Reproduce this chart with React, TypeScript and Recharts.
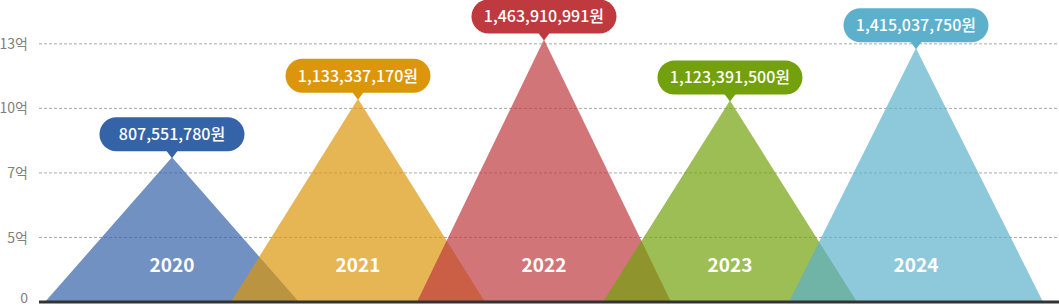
import React from "react";
import { ComposedChart, Area, XAxis, YAxis, CartesianGrid, ReferenceLine, ReferenceDot } from "recharts";

const YEARS = ["2020", "2021", "2022", "2023", "2024"];
const VALUES = [807551780, 1133337170, 1463910991, 1123391500, 1415037750];
const COLORS = ["#3463a8", "#dc960c", "#bf3a3f", "#73a10d", "#5db0cc"];
const Y_TICKS = [0, 3.6e8, 7.2e8, 10.8e8, 14.4e8];
const Y_TICK_LABELS = ["0", "5억", "7억", "10억", "13억"];

const HALF = 0.683; // half base width of each mountain, in category units
const FONT = '"Noto Sans CJK KR", "Noto Sans", sans-serif';

// each year becomes a triangle: base-left, peak, base-right
const rows = YEARS.flatMap((y, i) => [
  { x: i - HALF, [`y${y}`]: 0 },
  { x: i, [`y${y}`]: VALUES[i] },
  { x: i + HALF, [`y${y}`]: 0 },
]).sort((a, b) => a.x - b.x);

const won = (v: number) => v.toLocaleString("en-US") + "원";

function YTick({ x, y, payload }: any) {
  const v = payload.value;
  // bottom label sits a little above the thick base line, as in the original
  const shift = v === 0 ? -4 : 0;
  return (
    <text x={x} y={y + shift} dy="0.36em" textAnchor="end" fill="#808080" fontSize={14} fontFamily={FONT}>
      {Y_TICK_LABELS[Y_TICKS.indexOf(v)]}
    </text>
  );
}

function Pill({ cx, cy, color, text }: any) {
  const w = 145, h = 34;
  const top = cy - 6 - h;
  return (
    <g>
      <rect x={cx - w / 2} y={top} width={w} height={h} rx={17} fill={color} />
      <path d={`M${cx - 6},${top + h - 1} L${cx + 6},${top + h - 1} L${cx},${cy + 1} Z`} fill={color} />
      <text x={cx} y={top + h / 2} dy="0.36em" textAnchor="middle" fill="#fff" fontSize={16} fontWeight={500} fontFamily={FONT}>
        {text}
      </text>
    </g>
  );
}

function YearLabel({ cx, cy, text }: any) {
  return (
    <text x={cx} y={cy - 37} dy="0.36em" textAnchor="middle" fill="#fff" fontSize={19} fontWeight={600} fontFamily={FONT}>
      {text}
    </text>
  );
}

export default function App() {
  return (
    <div style={{ position: "absolute", left: 0, top: 0 }}>
      <ComposedChart width={1059} height={307} data={rows} margin={{ top: 8, right: 0, bottom: 5, left: 0 }}>
        <CartesianGrid vertical={false} horizontalValues={Y_TICKS} stroke="#aaa" strokeDasharray="3 2" />
        <XAxis type="number" dataKey="x" domain={[-0.715, 4.769]} allowDataOverflow hide />
        <YAxis
          width={39}
          domain={[0, 16.4e8]}
          ticks={Y_TICKS}
          interval={0}
          axisLine={false}
          tickLine={false}
          tickSize={0}
          tickMargin={11}
          tick={<YTick />}
        />
        {YEARS.map((y, i) => (
          <Area
            key={y}
            type="linear"
            dataKey={`y${y}`}
            connectNulls
            stroke="none"
            fill={COLORS[i]}
            fillOpacity={0.7}
            isAnimationActive={false}
            dot={false}
            activeDot={false}
          />
        ))}
        <ReferenceLine y={0} stroke="#333" strokeWidth={3} />
        {YEARS.map((y, i) => (
          <ReferenceDot key={`yl${y}`} x={i} y={0} shape={(p: any) => <YearLabel {...p} text={y} />} />
        ))}
        {YEARS.map((y, i) => (
          <ReferenceDot key={`p${y}`} x={i} y={VALUES[i]} shape={(p: any) => <Pill {...p} color={COLORS[i]} text={won(VALUES[i])} />} />
        ))}
      </ComposedChart>
    </div>
  );
}
